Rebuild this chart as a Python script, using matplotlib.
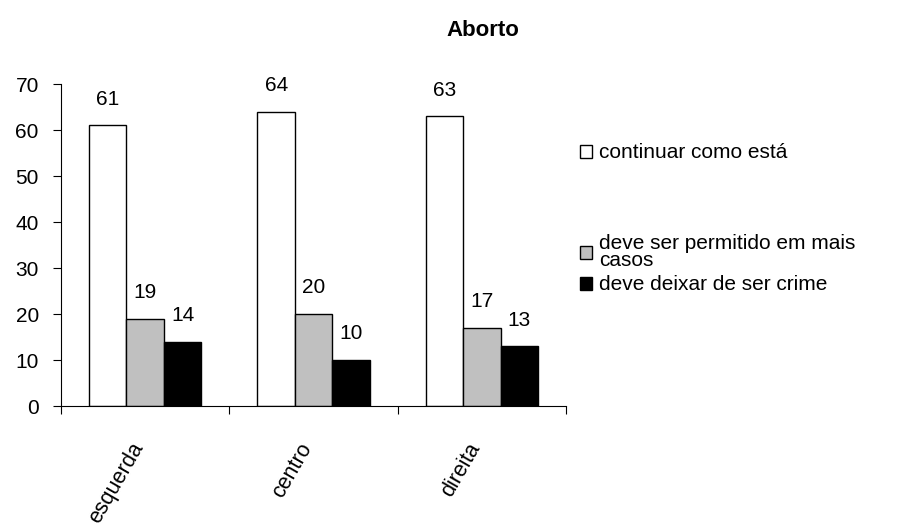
import matplotlib.pyplot as plt
import matplotlib.transforms as mtransforms
import numpy as np

plt.rcParams['font.family'] = ['Liberation Sans', 'DejaVu Sans']

categories = ['esquerda', 'centro', 'direita']
series = ['continuar como está', 'deve ser permitido em mais\ncasos', 'deve deixar de ser crime']
continuar = [61, 64, 63]
permitido = [19, 20, 17]
deixar = [14, 10, 13]
colors = ['white', '#c0c0c0', 'black']

fig = plt.figure(figsize=(9.11, 5.30), dpi=100)
ax = fig.add_axes([61 / 911, 1 - 406 / 530, 505 / 911, 322 / 530])

x = np.arange(len(categories))
w = 0.222
bars = []
for k, vals in enumerate([continuar, permitido, deixar]):
    b = ax.bar(x + (k - 1) * w, vals, w, color=colors[k], edgecolor='black', linewidth=1.0)
    bars.append(b)
    for xi, v in zip(x + (k - 1) * w, vals):
        ax.annotate(str(v), (xi, v), xytext=(0, 12), textcoords='offset points',
                    ha='center', va='bottom', fontsize=15)

ax.set_ylim(0, 70)
ax.set_xlim(-0.5, 2.5)
ax.set_yticks(range(0, 71, 10))
ax.tick_params(axis='y', labelsize=15, length=6, width=0.8, pad=10)
ax.set_xticks(x)
ax.set_xticklabels(categories, rotation=60, ha='right', va='top', rotation_mode='anchor', fontsize=15.5)
ax.tick_params(axis='x', length=0, pad=24)
shift = mtransforms.ScaledTranslation(-15 / 100, 0, fig.dpi_scale_trans)
for lab in ax.get_xticklabels():
    lab.set_transform(lab.get_transform() + shift)
ax.set_xticks(np.arange(-0.5, 2.6, 1), minor=True)
ax.tick_params(axis='x', which='minor', length=6, width=0.8)
for s in ['top', 'right']:
    ax.spines[s].set_visible(False)
for s in ['left', 'bottom']:
    ax.spines[s].set_linewidth(0.8)

fig.text(483 / 911, 1 - 31 / 530, 'Aborto', ha='center', va='center', fontsize=16, fontweight='bold')

# one legend per entry, the spacing in the original is uneven
leg_y = [153, 252, 285]
for b, lab, yy in zip(bars, series, leg_y):
    leg = fig.legend([b], [lab], loc='center left', bbox_to_anchor=(580 / 911, 1 - yy / 530),
                     frameon=False, fontsize=15, handlelength=0.58, handleheight=0.58,
                     handletextpad=0.35, borderpad=0, borderaxespad=0)
    for t in leg.get_texts():
        t.set_linespacing(0.9)

fig.savefig('out.png', dpi=100)
